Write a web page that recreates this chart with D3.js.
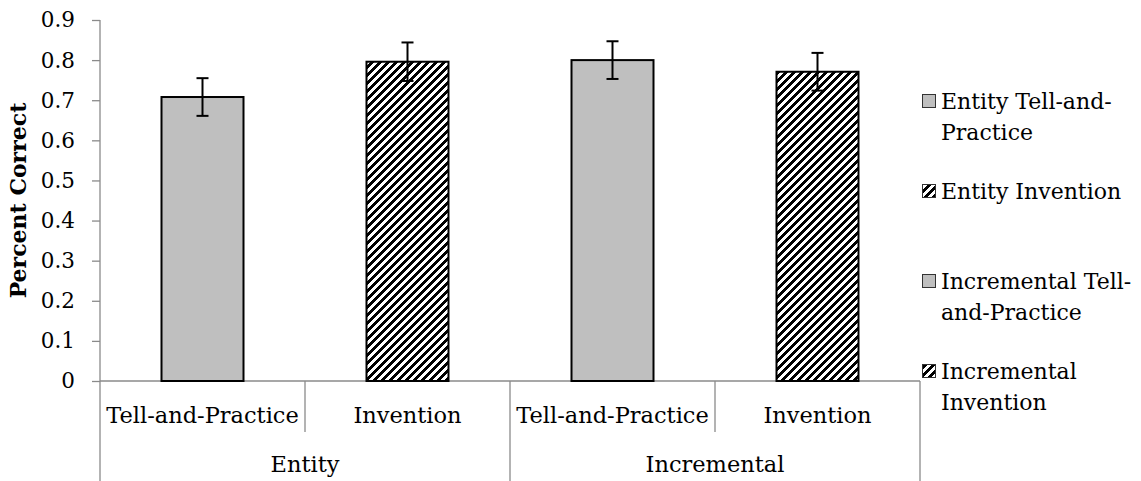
<!DOCTYPE html>
<html>
<head>
<meta charset="utf-8">
<script src="https://cdn.jsdelivr.net/npm/d3@7/dist/d3.min.js"></script>
<style>
  html, body { margin: 0; padding: 0; background: #fff; }
  svg { display: block; }
  text { font-family: "DejaVu Serif", "Liberation Serif", serif; fill: #000; }
</style>
</head>
<body>
<svg id="chart" width="1141" height="481"></svg>
<script>
// ---- data ----
const groups = ["Entity", "Incremental"];
const conditions = ["Tell-and-Practice", "Invention"];
const seriesNames = ["Entity Tell-and-Practice", "Entity Invention", "Incremental Tell-and-Practice", "Incremental Invention"];
const values = [0.708, 0.796, 0.800, 0.771];
const errors = [0.047, 0.048, 0.047, 0.047];
const yTicks = [0, 0.1, 0.2, 0.3, 0.4, 0.5, 0.6, 0.7, 0.8, 0.9];
const yTitle = "Percent Correct";

// ---- layout ----
const svg = d3.select("#chart");
const plot = { left: 100, right: 920, top: 20, bottom: 381 };
const axisColor = "#8a8a8a";
const fontSize = 22.5;
const legendFont = 22;

const slots = [];
groups.forEach((g, gi) => conditions.forEach((c, ci) => slots.push({ g, c, gi, ci, i: gi * conditions.length + ci })));

const y = d3.scaleLinear().domain([0, 0.9]).range([plot.bottom, plot.top]);
const x = d3.scaleBand().domain(slots.map(s => s.i)).range([plot.left, plot.right]).paddingInner(0).paddingOuter(0);
const xg = d3.scaleBand().domain(groups).range([plot.left, plot.right]);
const barW = x.bandwidth() / 2.5;

// pattern
const defs = svg.append("defs");
const pat = defs.append("pattern").attr("id", "hatch").attr("patternUnits", "userSpaceOnUse")
  .attr("width", 8).attr("height", 8);
pat.append("rect").attr("width", 8).attr("height", 8).attr("fill", "#fff");
for (let r = 0; r < 8; r++) {
  for (let c = 0; c < 8; c++) {
    if (((c + r) % 8) < 4) {
      pat.append("rect").attr("x", c).attr("y", r).attr("width", 1).attr("height", 1)
        .attr("fill", "#000").attr("shape-rendering", "crispEdges");
    }
  }
}
const fillFor = ci => ci === 0 ? "#bfbfbf" : "url(#hatch)";

// y axis
const yAxis = d3.axisLeft(y).tickValues(yTicks).tickSize(8).tickPadding(17)
  .tickFormat(d => d === 0 ? "0" : d3.format(".1f")(d));
const gy = svg.append("g").attr("transform", `translate(${plot.left},0)`).call(yAxis);
gy.select(".domain").remove();
gy.selectAll(".tick line").attr("stroke", axisColor).attr("stroke-width", 1.3);
gy.selectAll(".tick text").attr("font-size", 21.5).attr("font-family", '"DejaVu Serif", serif').attr("fill", "#000");

// vertical axis line (extends through category rows)
svg.append("line").attr("x1", plot.left).attr("x2", plot.left).attr("y1", plot.top).attr("y2", 481)
  .attr("stroke", axisColor).attr("stroke-width", 1.3);

// horizontal axis
svg.append("line").attr("x1", plot.left).attr("x2", plot.right).attr("y1", y(0)).attr("y2", y(0))
  .attr("stroke", axisColor).attr("stroke-width", 1.3);

// dividers between slots
slots.forEach(s => {
  if (s.i === 0) return;
  const xx = x(s.i);
  const isGroup = s.ci === 0;
  svg.append("line").attr("x1", xx).attr("x2", xx).attr("y1", y(0)).attr("y2", isGroup ? 481 : 432)
    .attr("stroke", axisColor).attr("stroke-width", 1.3);
});
svg.append("line").attr("x1", plot.right).attr("x2", plot.right).attr("y1", y(0)).attr("y2", 481)
  .attr("stroke", axisColor).attr("stroke-width", 1.3);

// bars
svg.append("g").selectAll("rect").data(slots).join("rect")
  .attr("x", s => x(s.i) + (x.bandwidth() - barW) / 2)
  .attr("y", s => y(values[s.i]))
  .attr("width", barW)
  .attr("height", s => y(0) - y(values[s.i]))
  .attr("fill", s => fillFor(s.ci))
  .attr("stroke", "#000").attr("stroke-width", 2);

// error bars
const eg = svg.append("g").attr("stroke", "#000").attr("stroke-width", 2);
slots.forEach(s => {
  const cx = x(s.i) + x.bandwidth() / 2;
  const hi = y(values[s.i] + errors[s.i]), lo = y(values[s.i] - errors[s.i]);
  eg.append("line").attr("x1", cx).attr("x2", cx).attr("y1", hi).attr("y2", lo);
  eg.append("line").attr("x1", cx - 6).attr("x2", cx + 6).attr("y1", hi).attr("y2", hi);
  eg.append("line").attr("x1", cx - 6).attr("x2", cx + 6).attr("y1", lo).attr("y2", lo);
});

// category labels
svg.append("g").selectAll("text").data(slots).join("text")
  .attr("x", s => x(s.i) + x.bandwidth() / 2).attr("y", 423)
  .attr("text-anchor", "middle").attr("font-size", fontSize).text(s => s.c);
svg.append("g").selectAll("text").data(groups).join("text")
  .attr("x", g => xg(g) + xg.bandwidth() / 2).attr("y", 472)
  .attr("text-anchor", "middle").attr("font-size", fontSize).text(g => g);

// y title
svg.append("text").attr("transform", `translate(18,${(plot.top + plot.bottom) / 2}) rotate(-90)`)
  .attr("text-anchor", "middle").attr("dominant-baseline", "central")
  .attr("font-size", 22).attr("font-weight", "bold").text(yTitle);

// legend
function wrap(label, maxW) {
  const tokens = label.match(/[^\s-]+-?\s*|\s+/g);
  const meas = svg.append("text").attr("font-size", legendFont).attr("visibility", "hidden");
  const lines = [];
  let cur = "";
  tokens.forEach(t => {
    const test = cur + t;
    meas.text(test.trim());
    if (cur && meas.node().getComputedTextLength() > maxW) {
      lines.push(cur.trim());
      cur = t;
    } else cur = test;
  });
  if (cur.trim()) lines.push(cur.trim());
  meas.remove();
  return lines;
}
const lg = svg.append("g");
const legTop = 101, legStep = 90, lineH = 31;
seriesNames.forEach((name, i) => {
  const cy = legTop + i * legStep;
  lg.append("rect").attr("x", 922.5).attr("y", cy - 6.5).attr("width", 13).attr("height", 13)
    .attr("fill", fillFor(i % 2)).attr("stroke", "#333").attr("stroke-width", 1);
  const lines = wrap(name, 198);
  const t = lg.append("text").attr("font-size", legendFont).attr("dominant-baseline", "central");
  lines.forEach((ln, li) => t.append("tspan").attr("x", 941).attr("y", cy + li * lineH).text(ln));
});
</script>
</body>
</html>
